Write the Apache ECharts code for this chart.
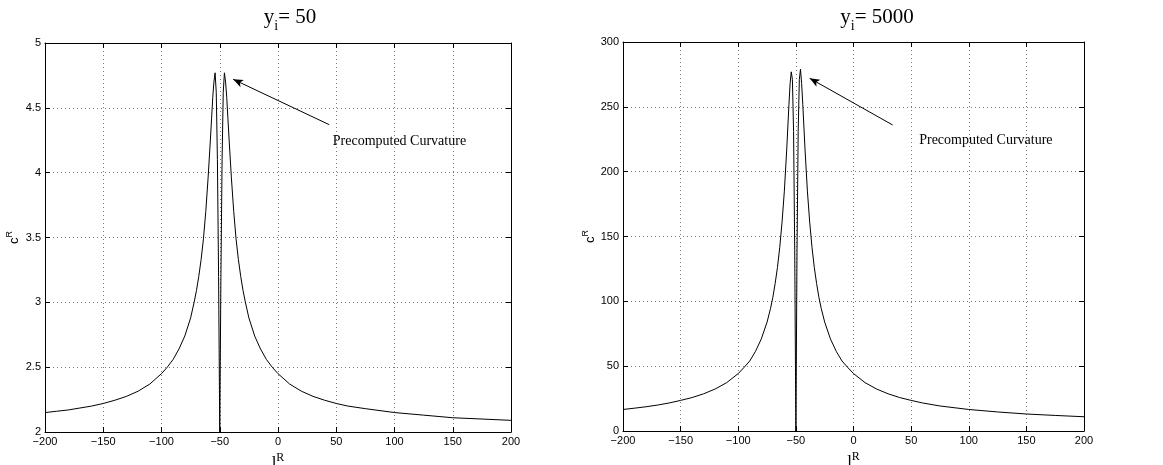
<!DOCTYPE html>
<html>
<head>
<meta charset="utf-8">
<script src="https://cdn.jsdelivr.net/npm/echarts@6/dist/echarts.min.js"></script>
<style>
  html, body { margin: 0; padding: 0; background: #fff; }
  #chart { width: 1163px; height: 465px; }
</style>
</head>
<body>
<div id="chart"></div>
<script>
// Curvature profile for y_i = 50 (left panel)
const leftX = [-200, -190, -180, -170, -160, -150, -140, -130, -120, -110, -100, -95, -90, -85, -80, -75, -72, -70, -68, -66, -64, -62, -60, -58, -57, -56, -55, -54, -53, -52, -51, -50,
  -49, -48, -47, -46, -45, -44, -43, -42, -40, -38, -36, -34, -32, -30, -28, -25, -20, -15, -10, -5, 0, 10, 20, 30, 40, 50, 60, 75, 100, 125, 150, 175, 200];
const leftY = [2.15, 2.16, 2.17, 2.185, 2.20, 2.22, 2.245, 2.275, 2.315, 2.37, 2.45, 2.50, 2.56, 2.64, 2.74, 2.88, 3.00, 3.09, 3.20, 3.33, 3.49, 3.70, 3.96, 4.26, 4.42, 4.58, 4.70, 4.77, 4.62, 4.10, 3.20, 2.00,
  3.20, 4.10, 4.62, 4.77, 4.70, 4.58, 4.42, 4.26, 3.96, 3.70, 3.49, 3.33, 3.20, 3.09, 3.00, 2.88, 2.74, 2.64, 2.56, 2.50, 2.45, 2.37, 2.315, 2.275, 2.245, 2.22, 2.20, 2.18, 2.15, 2.13, 2.11, 2.10, 2.09];

// Curvature profile for y_i = 5000 (right panel)
const rightX = [-200, -190, -180, -170, -160, -150, -140, -130, -120, -110, -100, -95, -90, -85, -80, -75, -72, -70, -68, -66, -64, -62, -60, -58, -56, -55, -54, -53, -52, -51, -50,
  -49, -48, -47, -46, -45, -44, -42, -40, -38, -36, -34, -32, -30, -28, -25, -20, -15, -10, -5, 0, 10, 20, 30, 40, 50, 60, 75, 100, 125, 150, 175, 200];
const rightY = [16.6, 17.6, 18.7, 20.0, 21.6, 23.6, 25.8, 28.7, 32.4, 37.3, 44.3, 49.0, 54.0, 61.5, 71.0, 84.0, 94.5, 103, 113.7, 126, 141.6, 161, 185, 216, 252, 268, 277, 271, 231, 139, 0,
  139, 231, 271, 279, 268, 252, 216, 185, 161, 141.6, 126, 113.7, 103, 94.5, 84.0, 71.0, 61.5, 54.0, 49.0, 44.3, 37.3, 32.4, 28.7, 25.8, 23.6, 21.6, 19.3, 16.6, 14.7, 13.1, 12.0, 11.0];

// Axis ranges and ticks
const xTicks = { min: -200, max: 200, interval: 50 };
const leftYTicks = { min: 2, max: 5, interval: 0.5 };
const rightYTicks = { min: 0, max: 300, interval: 50 };

// Titles and annotation
const panelTitles = ['50', '5000'];
const noteText = 'Precomputed Curvature';
const leftNote = { from: [44, 4.37], to: [-38.5, 4.72], text: [47, 4.24] };
const rightNote = { from: [34, 236], to: [-38, 272], text: [57, 224] };

const toPairs = (xs, ys) => xs.map((x, i) => [x, ys[i]]);
const minus = v => String(v).replace('-', '\u2212');

const sans = '"Liberation Sans", Arial, Helvetica, sans-serif';
const serif = '"Liberation Serif", "Times New Roman", serif';

const grids = [
  { left: 45, top: 43, width: 466, height: 389, outerBoundsMode: 'none', containLabel: false },
  { left: 623, top: 42, width: 461, height: 389, outerBoundsMode: 'none', containLabel: false }
];

function xAxes(gi) {
  const common = {
    type: 'value', gridIndex: gi, min: xTicks.min, max: xTicks.max, interval: xTicks.interval,
    axisLine: { show: true, onZero: false, lineStyle: { color: '#000', width: 1 } },
    axisTick: { show: true, inside: true, length: 5, lineStyle: { color: '#000' } },
  };
  return [
    Object.assign({}, common, {
      position: 'bottom',
      axisLabel: { color: '#000', fontFamily: sans, fontSize: 11, margin: 4, formatter: minus },
      splitLine: { show: true, lineStyle: { color: '#777', type: [1, 3], width: 1 } },
      name: '{l|l}{s|R}', nameLocation: 'middle', nameGap: 15,
      nameTextStyle: {
        color: '#000', verticalAlign: 'top',
        rich: {
          l: { fontFamily: serif, fontSize: 17, color: '#000', verticalAlign: 'bottom', lineHeight: 20 },
          s: { fontFamily: serif, fontSize: 12, color: '#000', verticalAlign: 'top', lineHeight: 12 }
        }
      }
    }),
    Object.assign({}, common, {
      position: 'top', axisLabel: { show: false }, splitLine: { show: false }
    })
  ];
}

function yAxes(gi, t) {
  const common = {
    type: 'value', gridIndex: gi, min: t.min, max: t.max, interval: t.interval,
    axisLine: { show: true, onZero: false, lineStyle: { color: '#000', width: 1 } },
    axisTick: { show: true, inside: true, length: 5, lineStyle: { color: '#000' } },
  };
  return [
    Object.assign({}, common, {
      position: 'left',
      axisLabel: { color: '#000', fontFamily: sans, fontSize: 11, margin: 4 },
      splitLine: { show: true, lineStyle: { color: '#777', type: [1, 3], width: 1 } },
      name: '{c|c}{s|R}', nameLocation: 'middle', nameGap: 24, nameRotate: 90,
      nameTextStyle: {
        color: '#000',
        rich: {
          c: { fontFamily: sans, fontSize: 13, color: '#000', verticalAlign: 'bottom', lineHeight: 16 },
          s: { fontFamily: sans, fontSize: 9, color: '#000', verticalAlign: 'top', lineHeight: 9 }
        }
      }
    }),
    Object.assign({}, common, {
      position: 'right', axisLabel: { show: false }, splitLine: { show: false }
    })
  ];
}

function noteMarks(n) {
  return {
    markLine: {
      silent: true, symbol: ['none', 'arrow'], symbolSize: [6, 10],
      lineStyle: { color: '#000', width: 1, type: 'solid' },
      label: { show: false },
      data: [[{ coord: n.from }, { coord: n.to }]]
    },
    markPoint: {
      silent: true, symbol: 'circle', symbolSize: 0,
      label: { show: true, position: 'right', distance: 0, formatter: noteText, color: '#000', fontFamily: serif, fontSize: 14 },
      data: [{ coord: n.text }]
    }
  };
}

function titleGraphic(cx, value) {
  return {
    type: 'text', x: cx, y: 7,
    style: {
      text: '{a|y}{i|i}{a|= ' + value + '}',
      align: 'center', verticalAlign: 'top',
      rich: {
        a: { fontFamily: serif, fontSize: 21, fill: '#000', verticalAlign: 'top', lineHeight: 22 },
        i: { fontFamily: serif, fontSize: 14, fill: '#000', verticalAlign: 'top', lineHeight: 22, padding: [12, 0, 0, 0] }
      }
    }
  };
}

const chart = echarts.init(document.getElementById('chart'), null, { renderer: 'canvas' });
chart.setOption({
  animation: false,
  backgroundColor: '#fff',
  grid: grids,
  xAxis: [...xAxes(0), ...xAxes(1)],
  yAxis: [...yAxes(0, leftYTicks), ...yAxes(1, rightYTicks)],
  graphic: [titleGraphic(290, panelTitles[0]), titleGraphic(877, panelTitles[1])],
  series: [
    Object.assign({
      type: 'line', xAxisIndex: 0, yAxisIndex: 0, data: toPairs(leftX, leftY),
      showSymbol: false, symbol: 'none', lineStyle: { color: '#000', width: 1 }
    }, noteMarks(leftNote)),
    Object.assign({
      type: 'line', xAxisIndex: 2, yAxisIndex: 2, data: toPairs(rightX, rightY),
      showSymbol: false, symbol: 'none', lineStyle: { color: '#000', width: 1 }
    }, noteMarks(rightNote))
  ]
});
</script>
</body>
</html>
